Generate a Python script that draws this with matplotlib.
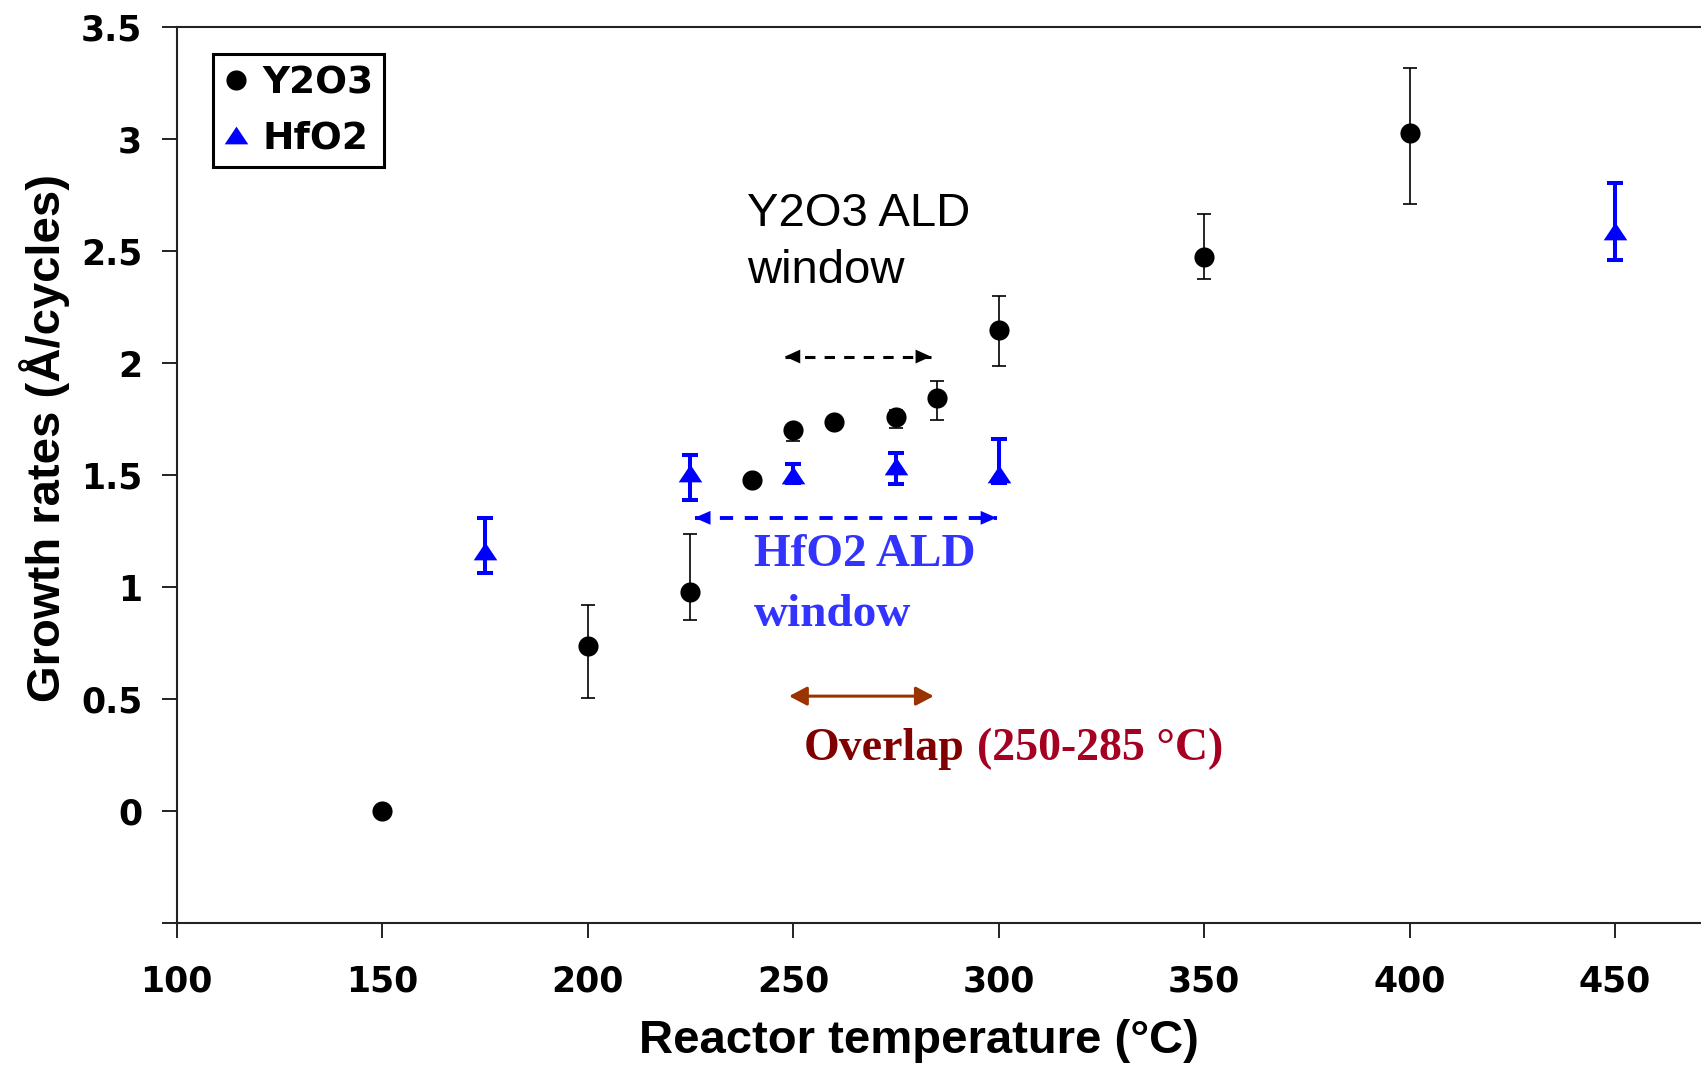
import matplotlib.pyplot as plt
from matplotlib.lines import Line2D

plt.rcParams['font.family'] = ['Liberation Sans', 'DejaVu Sans']

# Y2O3 growth rate vs reactor temperature
y2o3_temp = [150, 200, 225, 240, 250, 260, 275, 285, 300, 350, 400]
y2o3_rate = [0.0, 0.74, 0.98, 1.48, 1.70, 1.74, 1.76, 1.845, 2.15, 2.475, 3.03]
y2o3_err_lo = [0, 0.235, 0.125, 0, 0.045, 0, 0.05, 0.10, 0.16, 0.10, 0.32]
y2o3_err_hi = [0, 0.18, 0.26, 0, 0.02, 0, 0.03, 0.075, 0.15, 0.19, 0.29]

# HfO2 growth rate vs reactor temperature
hfo2_temp = [175, 225, 250, 275, 300, 450]
hfo2_rate = [1.16, 1.51, 1.50, 1.54, 1.505, 2.59]
hfo2_err_lo = [0.095, 0.12, 0.035, 0.08, 0.04, 0.13]
hfo2_err_hi = [0.15, 0.08, 0.05, 0.06, 0.155, 0.215]

# ALD windows (start, end, height of arrow)
y2o3_window = (248, 283.5, 2.03)
hfo2_window = (226, 299.5, 1.31)
overlap_window = (249, 284.2, 0.514)

xticks = [100, 150, 200, 250, 300, 350, 400, 450]
yticks = [-0.5, 0, 0.5, 1, 1.5, 2, 2.5, 3, 3.5]
ytick_labels = ['', '0', '0.5', '1', '1.5', '2', '2.5', '3', '3.5']

fig = plt.figure(figsize=(17.01, 10.66), dpi=100)
ax = fig.add_axes([0.1039, 0.1339, 0.8961, 0.8405])

tri = [(0, 0.75), (-1, -0.75), (1, -0.75), (0, 0.75)]

# error bars
ax.errorbar(y2o3_temp, y2o3_rate, yerr=[y2o3_err_lo, y2o3_err_hi], fmt='none',
            ecolor='black', elinewidth=1.2, capsize=5, capthick=1.2, zorder=2)
ax.errorbar(hfo2_temp, hfo2_rate, yerr=[hfo2_err_lo, hfo2_err_hi], fmt='none',
            ecolor='#0000ff', elinewidth=2.9, capsize=5.8, capthick=2.9, zorder=2)

# markers
ax.plot(y2o3_temp, y2o3_rate, 'o', color='black', ms=14.5, mew=0, zorder=3, label='Y2O3')
ax.plot(hfo2_temp, hfo2_rate, marker=tri, ls='none', color='#0000ff', ms=17, mew=0,
        zorder=3, label='HfO2')


def window_arrow(x0, x1, y, color, dashed, lw, hl, hw):
    if dashed:
        ax.plot([x0, x1], [y, y], color=color, lw=lw, dashes=(3.4, 3.0), zorder=2)
        style_lw = 0
    else:
        style_lw = lw
    ax.annotate('', xy=(x1, y), xytext=(x0, y),
                arrowprops=dict(arrowstyle='<|-|>,head_length=%g,head_width=%g' % (hl, hw),
                                mutation_scale=10, color=color, lw=style_lw,
                                shrinkA=0, shrinkB=0), zorder=3)


window_arrow(y2o3_window[0], y2o3_window[1], y2o3_window[2], 'black', True, 2.2, 1.1, 0.5)
window_arrow(hfo2_window[0], hfo2_window[1], hfo2_window[2], '#0000ff', True, 2.8, 1.15, 0.5)
window_arrow(overlap_window[0], overlap_window[1], overlap_window[2], '#993300', False, 2.2, 1.08, 0.57)

# annotations
ax.text(238.8, 2.613, 'Y2O3 ALD', fontsize=34, color='black', va='baseline')
ax.text(238.8, 2.36, 'window', fontsize=34, color='black', va='baseline')
serif = ['Liberation Serif', 'DejaVu Serif']
ax.text(240.5, 1.095, 'HfO2 ALD', fontsize=34, family=serif, weight='bold',
        color='#3333ff', va='baseline')
ax.text(240.5, 0.827, 'window', fontsize=34, family=serif, weight='bold',
        color='#3333ff', va='baseline')
ax.text(252.5, 0.228, 'Overlap', fontsize=33, family=serif, weight='bold',
        color='#800000', va='baseline')
ax.text(294.7, 0.228, '(250-285 °C)', fontsize=33, family=serif, weight='bold',
        color='#a50021', va='baseline')

# axes
ax.set_xlim(100, 470.9)
ax.set_ylim(-0.5, 3.5)
ax.set_xticks(xticks)
ax.set_yticks(yticks)
ax.set_yticklabels(ytick_labels)
for lab in ax.get_xticklabels() + ax.get_yticklabels():
    lab.set_fontfamily('DejaVu Sans')
    lab.set_fontweight('bold')
    lab.set_fontsize(25)
ax.tick_params(axis='both', direction='out', length=10.8, width=1.4, color='#222222')
ax.tick_params(axis='x', pad=19)
ax.tick_params(axis='y', pad=14)
ax.spines['right'].set_visible(False)
for s in ['left', 'bottom', 'top']:
    ax.spines[s].set_linewidth(1.5)
    ax.spines[s].set_color('#222222')

fig.text(0.54, 0.023, 'Reactor temperature (°C)', fontsize=34, fontweight='bold',
         ha='center', va='center')
fig.text(0.026, 0.589, 'Growth rates (Å/cycles)', fontsize=34, fontweight='bold',
         ha='center', va='center', rotation=90)

# legend
handles = [Line2D([], [], marker='o', ls='none', color='black', ms=14.5, mew=0),
           Line2D([], [], marker=tri, ls='none', color='#0000ff', ms=17, mew=0)]
leg = ax.legend(handles, ['Y2O3', 'HfO2'], loc='upper left', bbox_to_anchor=(0.024, 0.970),
                borderaxespad=0, fancybox=False, edgecolor='black', framealpha=1,
                prop=dict(family='DejaVu Sans', weight='bold', size=27),
                handlelength=0.6, handletextpad=0.4, borderpad=0.3, labelspacing=0.5)
leg.get_frame().set_linewidth(2.2)

fig.savefig('out.png', dpi=100)
